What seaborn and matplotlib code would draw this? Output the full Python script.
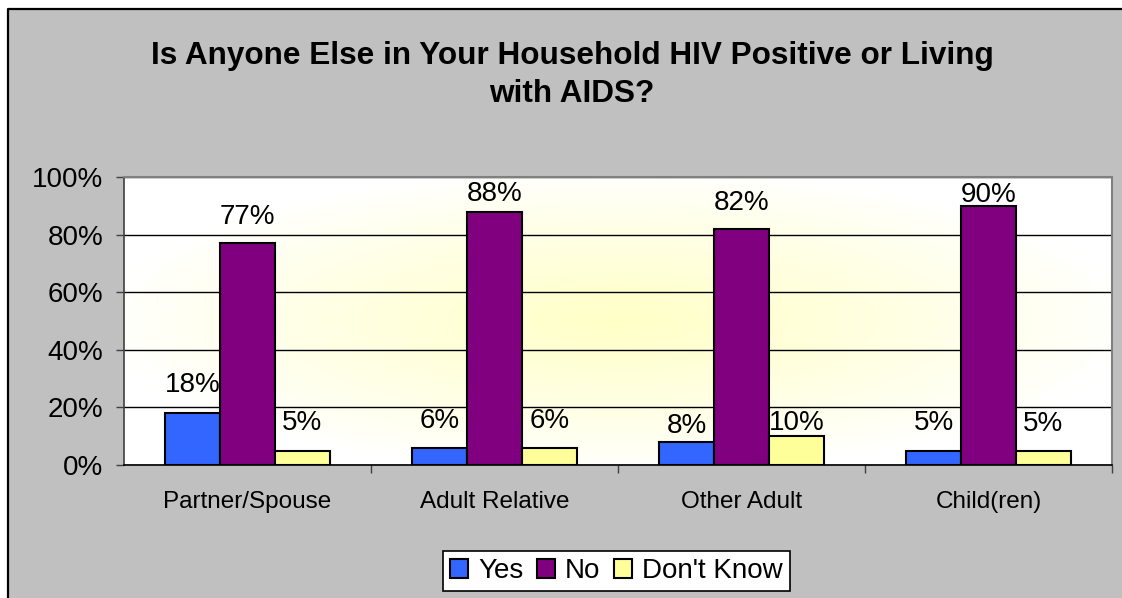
import numpy as np
import pandas as pd
import matplotlib
matplotlib.use("Agg")
import matplotlib.pyplot as plt
import seaborn as sns
from matplotlib.patches import Rectangle
from matplotlib.lines import Line2D
from matplotlib.ticker import FuncFormatter, FixedLocator

categories = ["Partner/Spouse", "Adult Relative", "Other Adult", "Child(ren)"]
series = ["Yes", "No", "Don't Know"]
yes_vals = [18, 6, 8, 5]
no_vals = [77, 88, 82, 90]
dk_vals = [5, 6, 10, 5]
colors = ["#3366FF", "#800080", "#FFFF99"]
title = "Is Anyone Else in Your Household HIV Positive or Living\nwith AIDS?"

# label gap above each bar (pixels), per series, as placed in the original
label_gaps = [[20, 18, 7, 19], [18, 9, 17, 2], [19, 18, 5, 18]]

df = pd.DataFrame({
    "category": categories * 3,
    "series": [series[0]] * 4 + [series[1]] * 4 + [series[2]] * 4,
    "value": yes_vals + no_vals + dk_vals,
})

sns.set_style("white")
plt.rcParams["font.family"] = ["Liberation Sans", "DejaVu Sans"]
plt.rcParams["text.color"] = "black"
plt.rcParams["xtick.color"] = "black"
plt.rcParams["ytick.color"] = "black"
plt.rcParams["axes.labelcolor"] = "black"

W, H = 1122, 598
fig = plt.figure(figsize=(W / 100, H / 100), dpi=100)
fig.patch.set_facecolor("#C0C0C0")
fig.patch.set_edgecolor("none")
fig.patch.set_linewidth(0)
x0 = 7.5 / W
ytop = 1 - 9 / H
# white margin strips (left and top) outside the gray chart area
fig.patches.append(Rectangle((0, 0), x0, 1, transform=fig.transFigure,
                             facecolor="white", edgecolor="none", linewidth=0, zorder=-10))
fig.patches.append(Rectangle((0, ytop), 1, 1 - ytop, transform=fig.transFigure,
                             facecolor="white", edgecolor="none", linewidth=0, zorder=-10))
fig.lines.append(Line2D([x0, x0], [0, ytop], transform=fig.transFigure,
                        color="black", linewidth=1.6, zorder=-9))
fig.lines.append(Line2D([x0, 1], [ytop, ytop], transform=fig.transFigure,
                        color="black", linewidth=1.6, zorder=-9,
                        solid_capstyle="butt"))

ax = fig.add_axes([124 / W, 1 - 465 / H, (1112 - 124) / W, (465 - 177) / H])

gx, gy = np.meshgrid(np.linspace(-1, 1, 300), np.linspace(-1, 1, 200))
r = np.clip(np.sqrt(gx ** 2 + gy ** 2) / 1.05, 0, 1)
t = (1 - r) ** 0.9
white = np.array([1.0, 1.0, 1.0])
yel = np.array([1.0, 1.0, 0.78])
img = white[None, None, :] * (1 - t[..., None]) + yel[None, None, :] * t[..., None]
ax.imshow(img, extent=[0, 1, 0, 1], transform=ax.transAxes, aspect="auto", zorder=0)

sns.barplot(data=df, x="category", y="value", hue="series", hue_order=series,
            order=categories, palette=colors, width=0.667, edgecolor="black",
            linewidth=1.5, saturation=1, ax=ax, zorder=3, legend=True)

ax.set_xlim(-0.5, 3.5)
ax.set_ylim(0, 100)
ax.set_facecolor("none")
ax.set_yticks([0, 20, 40, 60, 80, 100])
ax.yaxis.set_major_formatter(FuncFormatter(lambda v, p: f"{v:.0f}%"))
ax.yaxis.grid(True, color="black", linewidth=1.0, zorder=1)
ax.set_axisbelow(True)
ax.set_xlabel("")
ax.set_ylabel("")

for c, gaps in zip(ax.containers, label_gaps):
    for bar, v, g in zip(c.patches, c.datavalues, gaps):
        ax.annotate(f"{v:.0f}%", xy=(bar.get_x() + bar.get_width() / 2, bar.get_height()),
                    xytext=(0, (g - 4.4) * 0.72), textcoords="offset points",
                    ha="center", va="bottom", fontsize=20, color="black",
                    zorder=6, annotation_clip=False)

ax.tick_params(axis="y", which="major", labelsize=20, length=6, width=1,
               color="#404040", labelcolor="black", pad=9, left=True)
ax.tick_params(axis="x", which="major", labelsize=17.5, length=0, pad=19,
               labelcolor="black")
ax.xaxis.set_minor_locator(FixedLocator([0.5, 1.5, 2.5, 3.5]))
ax.tick_params(axis="x", which="minor", length=6, width=1, color="#404040",
               bottom=True)

for s in ["top", "right"]:
    ax.spines[s].set_color("#808080")
    ax.spines[s].set_linewidth(1.5)
ax.spines["left"].set_color("#404040")
ax.spines["left"].set_linewidth(1.2)
ax.spines["bottom"].set_color("black")
ax.spines["bottom"].set_linewidth(1.2)
for s in ax.spines.values():
    s.set_visible(True)
    s.set_zorder(5)

handles, labels = ax.get_legend_handles_labels()
ax.get_legend().remove()
leg = fig.legend(handles, labels, loc="center", bbox_to_anchor=(616.5 / W, 1 - 571 / H),
                 ncol=3, fontsize=20, frameon=True, fancybox=False,
                 edgecolor="black", facecolor="white", framealpha=1,
                 handlelength=0.65, handleheight=0.65, handletextpad=0.35,
                 columnspacing=0.5, borderpad=0.25, borderaxespad=0,
                 labelcolor="black")
leg.get_frame().set_linewidth(1.2)

fig.text(572 / W, 1 - 102 / H, title, ha="center", va="baseline", fontsize=22.7,
         fontweight="bold", linespacing=1.35, multialignment="center",
         color="black")

fig.savefig("out.png", dpi=100, facecolor=fig.get_facecolor(), edgecolor="none")
